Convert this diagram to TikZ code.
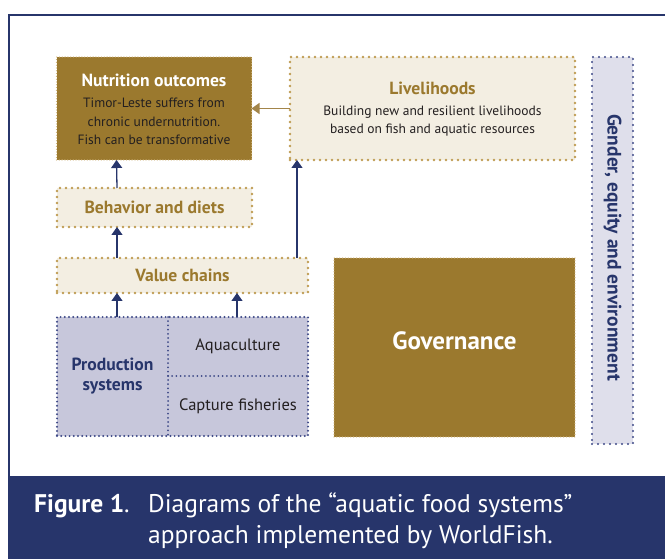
\documentclass[tikz,border=0pt]{standalone}
\usepackage{fontspec}
\setmainfont{PT Sans}
\usetikzlibrary{arrows.meta,calc}

\definecolor{navy}{HTML}{27356B}
\definecolor{brownfill}{HTML}{9B792E}
\definecolor{tandot}{HTML}{BF9C52}
\definecolor{cream}{HTML}{F3EEE2}
\definecolor{lavender}{HTML}{C7C7DB}
\definecolor{lavlight}{HTML}{DFDFEB}
\definecolor{navydot}{HTML}{3F4A88}
\definecolor{brownarrow}{HTML}{A3854A}
\definecolor{bodytext}{HTML}{231F20}

\tikzset{
  box/.style={rectangle, inner sep=0pt, outer sep=0pt, align=center},
  dots/.style={line cap=round, line width=2.6pt, dash pattern=on 0pt off 6pt},
  finedots/.style={line cap=round, line width=1.3pt, dash pattern=on 0pt off 2.8pt},
  tanbox/.style={box, fill=cream, draw=tandot, dots},
  brownbox/.style={box, fill=brownfill, draw=tandot!75!white, finedots, text=white},
  lavbox/.style={box, fill=lavender, draw=navydot, line cap=round, line width=2.2pt, dash pattern=on 0pt off 4.2pt},
  gendbox/.style={box, fill=lavlight, draw=navydot, dots, line width=2.3pt},
  innerdots/.style={draw=navydot, line cap=round, line width=2pt, dash pattern=on 0pt off 4.2pt},
  uparrow/.style={draw=navy, line width=1.3pt, -{Triangle[width=11pt,length=8pt]}},
  brownarr/.style={draw=brownarrow, line width=1.3pt, -{Triangle[width=11pt,length=8pt]}},
  titlefont/.style={font=\fontsize{17.6}{20}\selectfont\bfseries},
  bodyfont/.style={font=\fontsize{13.5}{18.5}\selectfont},
  itemfont/.style={font=\fontsize{16.5}{19}\selectfont},
  capfont/.style={font=\fontsize{25.5}{30}\selectfont},
}

\begin{document}
\begin{tikzpicture}[x=1pt,y=-1pt]
  \useasboundingbox (0,0) rectangle (665,559);
  \fill[white] (0,0) rectangle (665,559);

  % outer frame and caption band
  \draw[navy, line width=1.5pt] (9,476) -- (9,15) -- (670,15);
  \fill[navy] (8,476) rectangle (665,559);

  % boxes
  \node[brownbox, minimum width=195pt, minimum height=103pt] (nutrition) at (154,108.5) {};
  \node[tanbox, minimum width=285pt, minimum height=103pt] (liveli) at (432.5,108.5) {};
  \node[gendbox, minimum width=41pt, minimum height=387pt] (gender) at (612.5,250.5) {};
  \node[tanbox, minimum width=195pt, minimum height=39pt, titlefont, text=brownfill] (behavior) at (154.5,207.5) {Behavior and diets};
  \node[tanbox, minimum width=251pt, minimum height=35pt, titlefont, text=brownfill] (value) at (182.5,275.5) {Value chains};
  \node[lavbox, minimum width=251pt, minimum height=119pt] (prod) at (182.5,376.5) {};
  \node[brownbox, minimum width=241pt, minimum height=179pt] (gov) at (454.5,347.5) {};
  \node[box, text=white, font=\fontsize{25}{28}\selectfont\bfseries] (govtext) at (454.5,341) {Governance};

  % box texts
  \node[box, text=white, titlefont] (nuttitle) at (154,80) {Nutrition outcomes};
  \node[box, text=bodytext, bodyfont] (nutbody) at (154,121.5)
    {Timor-Leste suffers from\\chronic undernutrition.\\Fish can be transformative};
  \node[box, text=brownfill, titlefont] (livtitle) at (432.5,88) {Livelihoods};
  \node[box, text=bodytext, bodyfont] (livbody) at (432.5,121)
    {Building new and resilient livelihoods\\based on fish and aquatic resources};
  \node[box, text=navy, rotate=-90, font=\fontsize{19.5}{22}\selectfont\bfseries] (gendtext) at (612.5,247.5) {Gender, equity and environment};

  % production systems subdivisions
  \node[box, minimum width=111pt, minimum height=119pt, text=navy, titlefont] (prodlab) at (112.5,376.5) {Production\\systems};
  \node[box, minimum width=140pt, minimum height=59pt, text=bodytext, itemfont] (aqua) at (238,346.5) {Aquaculture};
  \node[box, minimum width=140pt, minimum height=60pt, text=bodytext, itemfont] (capture) at (238,406) {Capture fisheries};
  \draw[innerdots] (aqua.north west) -- (capture.south west);
  \draw[innerdots] (aqua.south west) -- (aqua.south east);

  % connectors
  \draw[brownarr] (liveli.west) -- (liveli.west -| nutrition.east);
  \draw[uparrow] ([xshift=60pt]behavior.north west) -- ([xshift=60pt]nutrition.south west);
  \draw[uparrow] ([xshift=60pt]value.north west) -- ([xshift=60pt]behavior.south west);
  \draw[uparrow] ([xshift=-11pt]value.north east) -- ([xshift=-11pt]value.north east |- liveli.south);
  \draw[uparrow] ([xshift=60pt]prod.north west) -- ([xshift=60pt]value.south west);
  \draw[uparrow] ([xshift=180pt]prod.north west) -- ([xshift=180pt]value.south west);

  % caption
  \node[anchor=base west, text=white, inner sep=0pt, capfont] (capfig) at (34,512)
    {\textbf{Figure 1}.};
  \node[anchor=base west, text=white, inner sep=0pt, capfont] (cap1) at (148,512)
    {Diagrams of the “aquatic food systems”};
  \node[anchor=base west, text=white, inner sep=0pt, capfont] (cap2) at (148,543)
    {approach implemented by WorldFish.};
\end{tikzpicture}
\end{document}
